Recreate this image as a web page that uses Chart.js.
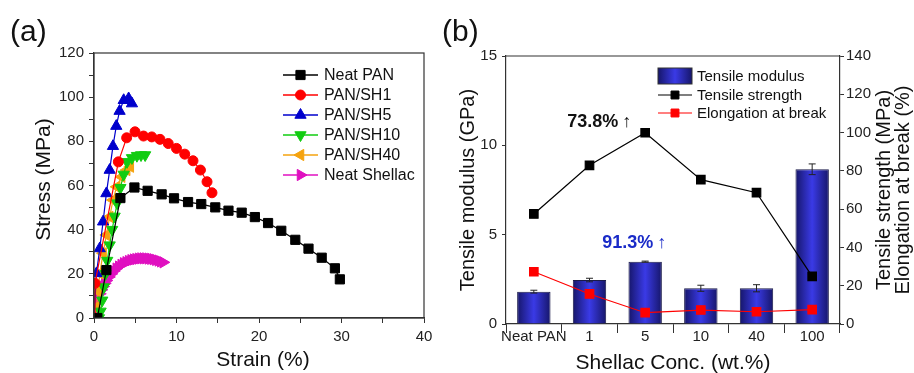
<!DOCTYPE html>
<html>
<head>
<meta charset="utf-8">
<script src="https://cdn.jsdelivr.net/npm/chart.js@4.4.1/dist/chart.umd.min.js"></script>
<style>
  body { margin: 0; background: #fff; }
  #wrap { position: relative; width: 914px; height: 373px; overflow: hidden; }
  canvas { position: absolute; top: 0; }
  #chartA { left: 0; }
  #chartB { left: 440px; }
</style>
</head>
<body>
<div id="wrap">
  <canvas id="chartA" width="440" height="373"></canvas>
  <canvas id="chartB" width="474" height="373"></canvas>
</div>
<script>
// ---- panel (a): stress-strain curves
const neatPanStrain = [0.4, 1.5, 3.2, 4.9, 6.5, 8.2, 9.7, 11.4, 13.0, 14.7, 16.3, 17.9, 19.5, 21.1, 22.7, 24.4, 26.0, 27.6, 29.2, 29.8];
const neatPanStress = [0, 21.7, 54.3, 59.1, 57.6, 56.0, 54.2, 52.5, 51.6, 50.1, 48.6, 47.7, 45.7, 43.0, 39.5, 35.4, 31.4, 27.3, 22.5, 17.5];

const sh1Strain = [0, 0.12, 2.95, 3.96, 4.97, 6.0, 7.0, 8.0, 9.0, 10.0, 11.0, 12.0, 12.9, 13.7, 14.3];
const sh1Stress = [0, 15.7, 70.7, 81.6, 84.3, 82.4, 82.0, 80.9, 79.0, 76.8, 74.2, 71.2, 67.0, 61.7, 56.7];

const sh5Strain = [0, 0.3, 0.7, 1.1, 1.5, 1.9, 2.3, 2.7, 3.1, 3.6, 4.2, 4.6];
const sh5Stress = [0, 20.2, 31.5, 43.6, 56.4, 67.0, 77.8, 86.9, 93.7, 98.6, 99.4, 97.1];

const sh10Strain = [0.6, 0.8, 1.0, 1.2, 1.4, 1.6, 1.9, 2.2, 2.5, 2.8, 3.2, 3.6, 4.0, 4.6, 5.2, 5.7, 6.2];
const sh10Stress = [0, 3, 8, 14, 20, 26, 33, 40, 46, 52, 59, 65, 70.7, 72.5, 73.5, 73.8, 73.8];

const sh40Strain = [0.1, 0.3, 0.5, 0.7, 1.1, 1.5, 1.9, 2.3, 2.75, 3.35, 3.96, 4.4];
const sh40Stress = [0, 5, 12, 20.2, 29.3, 37.6, 45.8, 53.4, 59.4, 63.9, 67.0, 68.5];

const shellacStrain = [0, 0.15, 0.3, 0.5, 0.7, 0.9, 1.1, 1.3, 1.5, 1.8, 2.1, 2.4, 2.7, 3.0, 3.3, 3.6, 3.9, 4.2, 4.5, 4.8, 5.1, 5.4, 5.7, 6.0, 6.3, 6.6, 6.9, 7.2, 7.5, 7.8, 8.1, 8.4];
const shellacStress = [2, 4.5, 6.8, 9, 11, 12.8, 14.3, 15.7, 17, 18.6, 20, 21.3, 22.4, 23.3, 24.1, 24.8, 25.3, 25.8, 26.2, 26.5, 26.7, 26.9, 27, 27, 27, 26.9, 26.8, 26.6, 26.3, 26, 25.6, 25.2];

const curveNames = ['Neat PAN', 'PAN/SH1', 'PAN/SH5', 'PAN/SH10', 'PAN/SH40', 'Neat Shellac'];

// ---- panel (b): properties vs shellac concentration
const concLabels = ['Neat PAN', '1', '5', '10', '40', '100'];
const modulus = [1.81, 2.46, 3.49, 2.0, 2.0, 8.66];
const modulusErr = [0.08, 0.1, 0.03, 0.17, 0.2, 0.3];
const strength = [57.5, 82.9, 99.9, 75.4, 68.6, 24.9];
const elongation = [27.3, 15.7, 5.9, 7.3, 6.4, 7.5];

const FONT = 'Arial, "Liberation Sans", Helvetica, sans-serif';
const AXIS = '#333';
const TXT = '#222';

function pts(xs, ys) {
  return xs.map((x, i) => ({ x: x, y: ys[i] }));
}

function marker(ctx, style, rot, r, x, y, color) {
  ctx.save();
  ctx.fillStyle = color;
  ctx.strokeStyle = color;
  ctx.lineWidth = 1;
  Chart.helpers.drawPoint(ctx, { pointStyle: style, rotation: rot, radius: r, borderWidth: 1 }, x, y);
  ctx.restore();
}

const curveStyle = [
  { color: '#000000', style: 'rect', rot: 0, r: 6.5 },
  { color: '#ff0000', style: 'circle', rot: 0, r: 5 },
  { color: '#0000cc', style: 'triangle', rot: 0, r: 6.5 },
  { color: '#11cc11', style: 'triangle', rot: 180, r: 6.5 },
  { color: '#f5a30f', style: 'triangle', rot: 270, r: 6.5 },
  { color: '#e010c0', style: 'triangle', rot: 90, r: 6.5 }
];
const curveData = [
  pts(neatPanStrain, neatPanStress),
  pts(sh1Strain, sh1Stress),
  pts(sh5Strain, sh5Stress),
  pts(sh10Strain, sh10Stress),
  pts(sh40Strain, sh40Stress),
  pts(shellacStrain, shellacStress)
];

const panelA = {
  id: 'panelA',
  afterDraw(chart) {
    const ctx = chart.ctx;
    const a = chart.chartArea;
    ctx.save();
    ctx.strokeStyle = AXIS;
    ctx.lineWidth = 1.2;
    ctx.strokeRect(a.left, a.top, a.right - a.left, a.bottom - a.top);

    ctx.fillStyle = '#111';
    ctx.font = '30px ' + FONT;
    ctx.textAlign = 'left';
    ctx.textBaseline = 'middle';
    ctx.fillText('(a)', 10, 33);

    ctx.font = '21px ' + FONT;
    ctx.textAlign = 'center';
    ctx.fillText('Strain (%)', (a.left + a.right) / 2 + 4, 360);
    ctx.save();
    ctx.translate(44, (a.top + a.bottom) / 2 - 6);
    ctx.rotate(-Math.PI / 2);
    ctx.fillText('Stress (MPa)', 0, 0);
    ctx.restore();

    // legend: line + marker
    ctx.font = '16px ' + FONT;
    ctx.textAlign = 'left';
    curveNames.forEach((name, i) => {
      const s = curveStyle[i];
      const y = 75 + i * 20;
      ctx.strokeStyle = s.color;
      ctx.lineWidth = 1.3;
      ctx.beginPath();
      ctx.moveTo(283, y);
      ctx.lineTo(318, y);
      ctx.stroke();
      marker(ctx, s.style, s.rot, s.r, 300.5, y, s.color);
      ctx.fillStyle = '#111';
      ctx.fillText(name, 324, y + 1);
    });
    ctx.restore();
  }
};

new Chart(document.getElementById('chartA'), {
  type: 'scatter',
  data: {
    datasets: curveData.map((d, i) => ({
      label: curveNames[i],
      data: d,
      showLine: true,
      borderColor: curveStyle[i].color,
      borderWidth: 1.2,
      backgroundColor: curveStyle[i].color,
      pointStyle: curveStyle[i].style,
      pointRotation: curveStyle[i].rot,
      pointRadius: curveStyle[i].r,
      pointBorderWidth: 1,
      pointBorderColor: curveStyle[i].color,
      pointBackgroundColor: curveStyle[i].color,
      tension: 0
    }))
  },
  options: {
    responsive: false,
    animation: false,
    layout: { padding: { top: 53, right: 16, left: 0, bottom: 0 } },
    plugins: { legend: { display: false }, tooltip: { enabled: false } },
    scales: {
      x: {
        type: 'linear',
        min: 0,
        max: 40,
        afterFit: s => { s.height = 55; },
        border: { color: AXIS, width: 1.2 },
        grid: { drawOnChartArea: false, tickLength: 5, color: AXIS },
        ticks: {
          stepSize: 5,
          padding: 5,
          color: TXT,
          font: { family: FONT, size: 15 },
          callback: v => (v % 10 === 0 ? v : '')
        }
      },
      y: {
        min: 0,
        max: 120,
        afterFit: s => { s.width = 94; },
        border: { color: AXIS, width: 1.2 },
        grid: { drawOnChartArea: false, tickLength: 5, color: AXIS },
        ticks: {
          stepSize: 10,
          padding: 5,
          color: TXT,
          font: { family: FONT, size: 15 },
          callback: v => (v % 20 === 0 ? v : '')
        }
      }
    }
  },
  plugins: [panelA]
});

// ---- panel (b)
function barGradient(ctx, cx, w) {
  const g = ctx.createLinearGradient(cx - w / 2, 0, cx + w / 2, 0);
  g.addColorStop(0, '#16166a');
  g.addColorStop(0.5, '#3a3ae6');
  g.addColorStop(1, '#16166a');
  return g;
}

const panelB = {
  id: 'panelB',
  afterDatasetDraw(chart, args) {
    if (args.index !== 0) return;
    const ctx = chart.ctx;
    const y = chart.scales.y;
    const x = chart.scales.x;
    ctx.save();
    ctx.strokeStyle = '#222';
    ctx.lineWidth = 1;
    modulus.forEach((v, i) => {
      const cx = x.getPixelForValue(i);
      const t = y.getPixelForValue(v + modulusErr[i]);
      const b = y.getPixelForValue(v - modulusErr[i]);
      ctx.beginPath();
      ctx.moveTo(cx, t); ctx.lineTo(cx, b);
      ctx.moveTo(cx - 3.5, t); ctx.lineTo(cx + 3.5, t);
      ctx.moveTo(cx - 3.5, b); ctx.lineTo(cx + 3.5, b);
      ctx.stroke();
    });
    ctx.restore();
  },
  afterDraw(chart) {
    const ctx = chart.ctx;
    const a = chart.chartArea;
    const x = chart.scales.x;
    const y = chart.scales.y;
    const y2 = chart.scales.y2;
    ctx.save();
    ctx.strokeStyle = AXIS;
    ctx.lineWidth = 1.2;
    ctx.beginPath();
    ctx.moveTo(a.left, a.top);
    ctx.lineTo(a.right, a.top);
    ctx.stroke();

    ctx.fillStyle = '#111';
    ctx.font = '30px ' + FONT;
    ctx.textAlign = 'left';
    ctx.textBaseline = 'middle';
    ctx.fillText('(b)', 2, 33);

    ctx.font = '21px ' + FONT;
    ctx.textAlign = 'center';
    ctx.fillText('Shellac Conc. (wt.%)', (a.left + a.right) / 2, 363);
    const midY = (a.top + a.bottom) / 2;
    ctx.save();
    ctx.translate(28, midY);
    ctx.rotate(-Math.PI / 2);
    ctx.font = '20px ' + FONT;
    ctx.fillText('Tensile modulus (GPa)', 0, 0);
    ctx.restore();
    ctx.save();
    ctx.translate(444, midY);
    ctx.rotate(-Math.PI / 2);
    ctx.font = '20px ' + FONT;
    ctx.fillText('Tensile strength (MPa)', 0, 0);
    ctx.fillText('Elongation at break (%)', 0, 19.5);
    ctx.restore();

    // annotations
    const peak = strength.indexOf(Math.max(...strength));
    const px = x.getPixelForValue(peak);
    ctx.textAlign = 'left';
    ctx.font = 'bold 18px ' + FONT;
    const sTxt = '73.8%';
    const sw = ctx.measureText(sTxt).width;
    const sy = y2.getPixelForValue(strength[peak]) - 11;
    ctx.fillStyle = '#111';
    ctx.fillText(sTxt, px - 78, sy);
    ctx.font = '18px ' + FONT;
    ctx.fillText('\u2191', px - 78 + sw + 4, sy);

    const mTop = y.getPixelForValue(modulus[peak]) - 19;
    ctx.font = 'bold 18px ' + FONT;
    ctx.fillStyle = '#1a2bc8';
    const mTxt = '91.3%';
    const mw = ctx.measureText(mTxt).width;
    ctx.fillText(mTxt, px - 43, mTop);
    ctx.font = '18px ' + FONT;
    ctx.fillText('\u2191', px - 43 + mw + 4, mTop);

    // legend
    ctx.font = '15px ' + FONT;
    ctx.fillStyle = barGradient(ctx, 235, 34);
    ctx.fillRect(218, 68, 34, 16);
    ctx.strokeStyle = '#333';
    ctx.lineWidth = 1;
    ctx.strokeRect(218, 68, 34, 16);
    ctx.fillStyle = '#111';
    ctx.fillText('Tensile modulus', 257, 77);
    const rows = [['Tensile strength', '#000000', 95], ['Elongation at break', '#ff0000', 113]];
    rows.forEach(r => {
      ctx.strokeStyle = r[1];
      ctx.lineWidth = 1.2;
      ctx.beginPath();
      ctx.moveTo(218, r[2]); ctx.lineTo(252, r[2]);
      ctx.stroke();
      marker(ctx, 'rect', 0, 5.6, 235, r[2], r[1]);
      ctx.fillStyle = '#111';
      ctx.fillText(r[0], 257, r[2] + 1);
    });
    ctx.restore();
  }
};

new Chart(document.getElementById('chartB'), {
  type: 'bar',
  data: {
    labels: concLabels,
    datasets: [
      {
        label: 'Tensile modulus',
        data: modulus,
        yAxisID: 'y',
        order: 2,
        barPercentage: 0.6,
        categoryPercentage: 1.0,
        borderColor: '#1a1a4a',
        borderWidth: 1,
        backgroundColor: c => {
          const xs = c.chart.scales.x;
          if (!xs || c.dataIndex === undefined) return '#3333cc';
          const w = xs.width / concLabels.length * 0.6;
          const cx = xs.getPixelForValue(c.dataIndex);
          if (!isFinite(w) || !isFinite(cx)) return '#3333cc';
          return barGradient(c.chart.ctx, cx, w);
        }
      },
      {
        type: 'line',
        label: 'Tensile strength',
        data: strength,
        yAxisID: 'y2',
        order: 1,
        borderColor: '#000',
        borderWidth: 1.2,
        pointStyle: 'rect',
        pointRadius: 6,
        pointBackgroundColor: '#000',
        pointBorderColor: '#000',
        tension: 0
      },
      {
        type: 'line',
        label: 'Elongation at break',
        data: elongation,
        yAxisID: 'y2',
        order: 1,
        borderColor: '#ff0000',
        borderWidth: 1.2,
        pointStyle: 'rect',
        pointRadius: 6,
        pointBackgroundColor: '#ff0000',
        pointBorderColor: '#ff0000',
        tension: 0
      }
    ]
  },
  options: {
    responsive: false,
    animation: false,
    layout: { padding: { top: 56, right: 0, left: 0, bottom: 0 } },
    plugins: { legend: { display: false }, tooltip: { enabled: false } },
    scales: {
      x: {
        offset: true,
        afterFit: s => { s.height = 49; },
        border: { color: AXIS, width: 1.2 },
        grid: { offset: true, drawOnChartArea: false, tickLength: 9, color: AXIS },
        ticks: {
          padding: -5,
          maxRotation: 0,
          minRotation: 0,
          autoSkip: false,
          color: TXT,
          font: { family: FONT, size: 15 }
        }
      },
      y: {
        position: 'left',
        min: 0,
        max: 15,
        afterFit: s => { s.width = 66; },
        border: { color: AXIS, width: 1.2 },
        grid: { drawOnChartArea: false, tickLength: 4, color: AXIS },
        ticks: { stepSize: 5, padding: 5, color: TXT, font: { family: FONT, size: 15 } }
      },
      y2: {
        position: 'right',
        min: 0,
        max: 140,
        afterFit: s => { s.width = 74; },
        border: { color: AXIS, width: 1.2 },
        grid: { drawOnChartArea: false, tickLength: 4, color: AXIS },
        ticks: {
          stepSize: 10,
          padding: 2,
          color: TXT,
          font: { family: FONT, size: 15 },
          callback: v => (v % 20 === 0 ? v : '')
        }
      }
    }
  },
  plugins: [panelB]
});
</script>
</body>
</html>
